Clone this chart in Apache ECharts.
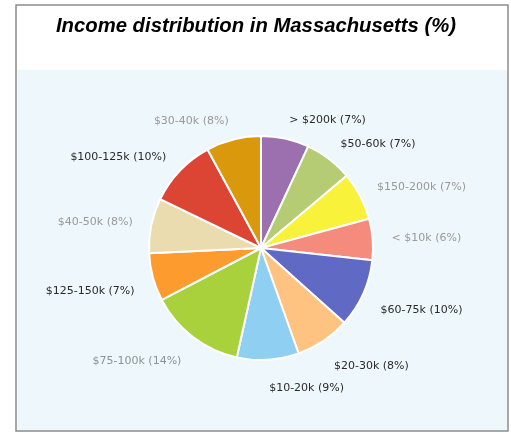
<!DOCTYPE html>
<html>
<head>
<meta charset="utf-8">
<style>
  html, body { margin: 0; padding: 0; background: #ffffff; }
  #main { width: 511px; height: 433px; }
</style>
<script src="https://cdn.jsdelivr.net/npm/echarts@6/dist/echarts.min.js"></script>
</head>
<body>
<div id="main"></div>
<script>
// slices clockwise from 12 o'clock
var names = ['> $200k', '$50-60k', '$150-200k', '< $10k', '$60-75k', '$20-30k',
  '$10-20k', '$75-100k', '$125-150k', '$40-50k', '$100-125k', '$30-40k'];
var values = [7, 7, 7, 6, 10, 8, 9, 14, 7, 8, 10, 8];
var colors = ['#9c6fae', '#b5cc74', '#f9f23a', '#f48b7d', '#6069c4', '#fec380',
  '#8ecff2', '#a8d13b', '#fd9b2e', '#eadcae', '#dc4433', '#da980d'];
// the scan shows some labels dark and some faded
var labelColors = ['#2a2a2a', '#2a2a2a', '#9a9a9a', '#9a9a9a', '#2a2a2a', '#2a2a2a',
  '#2a2a2a', '#8a9494', '#2a2a2a', '#9a9a9a', '#2a2a2a', '#9a9a9a'];

var chart = echarts.init(document.getElementById('main'));

var seriesData = [];
for (var i = 0; i < names.length; i++) {
  seriesData.push({
    name: names[i],
    value: values[i],
    itemStyle: { color: colors[i] },
    label: { color: labelColors[i] }
  });
}

var option = {
  animation: false,
  backgroundColor: '#ffffff',
  graphic: [
    {
      type: 'rect',
      z: -10,
      shape: { x: 17, y: 70, width: 490, height: 360 },
      style: { fill: '#eef7fb' }
    },
    {
      type: 'rect',
      z: -5,
      shape: { x: 16, y: 5, width: 492, height: 426 },
      style: { fill: 'none', stroke: '#8c8c8c', lineWidth: 1.5 }
    }
  ],
  title: {
    text: 'Income distribution in Massachusetts (%)',
    left: 251,
    top: 11,
    textAlign: 'center',
    textStyle: {
      fontFamily: 'Liberation Sans',
      fontStyle: 'italic',
      fontWeight: 'bold',
      fontSize: 20.3,
      color: '#000000'
    }
  },
  series: [{
    type: 'pie',
    center: [261, 248],
    radius: [0, 112],
    startAngle: 90,
    clockwise: true,
    avoidLabelOverlap: false,
    itemStyle: { borderColor: '#ffffff', borderWidth: 2 },
    label: {
      show: true,
      position: 'outside',
      formatter: '{b} ({c}%)',
      fontFamily: 'DejaVu Sans',
      fontSize: 11,
      distanceToLabelLine: 0
    },
    labelLine: { show: false, length: 19, length2: 0 },
    // labels under the pie sit a little lower in the original
    labelLayout: function (p) {
      return p.labelRect.y > 255 ? { dy: 9 } : {};
    },
    emphasis: { disabled: true },
    data: seriesData
  }]
};

chart.setOption(option);
</script>
</body>
</html>
